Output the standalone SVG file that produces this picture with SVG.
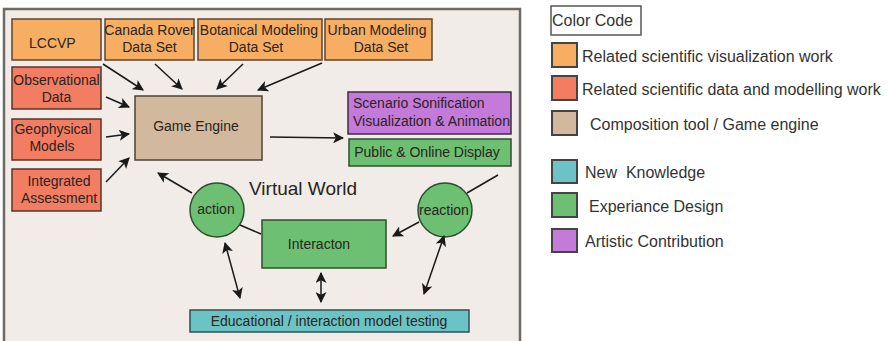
<svg xmlns="http://www.w3.org/2000/svg" width="888" height="341" viewBox="0 0 888 341">
<defs>
<marker id="ah" viewBox="0 0 10 10" refX="9" refY="5" markerWidth="11" markerHeight="11" markerUnits="userSpaceOnUse" orient="auto-start-reverse">
<path d="M0,0 L10,5 L0,10 L2.5,5 z" fill="#1a1a1a"/>
</marker>
<style>
text{font-family:"Liberation Sans",Arial,sans-serif;fill:#2a2420}
.bx{font-size:14px}
.lg{font-size:16px;fill:#333}
.or{fill:#F8AE62;stroke:#5c4630;stroke-width:1.5}
.rd{fill:#F37D62;stroke:#5c3428;stroke-width:1.5}
.tn{fill:#D2B89C;stroke:#4e4236;stroke-width:1.5}
.pu{fill:#C47AD8;stroke:#3c2c46;stroke-width:1.5}
.gr{fill:#6DBF72;stroke:#2e4e30;stroke-width:1.5}
.te{fill:#6CC3C5;stroke:#2e5050;stroke-width:1.5}
.sw{stroke:#444;stroke-width:2}
.ln{stroke:#1a1a1a;stroke-width:1.5;fill:none}
.a{marker-end:url(#ah)}
.aa{marker-end:url(#ah);marker-start:url(#ah)}
</style>
</defs>
<rect width="888" height="341" fill="#ffffff"/>
<rect id="frame" x="4" y="9" width="516" height="340" fill="#F2ECE8" stroke="#6e6a66" stroke-width="2.5"/>

<g id="lccvp"><rect class="or" x="12" y="19" width="89" height="41"/><text class="bx" x="29" y="48">LCCVP</text></g>
<g id="canada"><rect class="or" x="105" y="19" width="89" height="41"/><text class="bx" x="149.5" y="35" text-anchor="middle">Canada Rover</text><text class="bx" x="149.5" y="52" text-anchor="middle">Data Set</text></g>
<g id="botanical"><rect class="or" x="198" y="19" width="124" height="41"/><text class="bx" x="259" y="35" text-anchor="middle">Botanical Modeling</text><text class="bx" x="256" y="52" text-anchor="middle">Data Set</text></g>
<g id="urban"><rect class="or" x="325" y="19" width="107" height="41"/><text class="bx" x="377" y="35" text-anchor="middle">Urban Modeling</text><text class="bx" x="381" y="52" text-anchor="middle">Data Set</text></g>
<g id="observational"><rect class="rd" x="12" y="67" width="89" height="42"/><text class="bx" x="56.5" y="85" text-anchor="middle">Observational</text><text class="bx" x="56.5" y="102" text-anchor="middle">Data</text></g>
<g id="geophysical"><rect class="rd" x="12" y="119" width="89" height="41"/><text class="bx" x="53" y="134" text-anchor="middle">Geophysical</text><text class="bx" x="52" y="151" text-anchor="middle">Models</text></g>
<g id="integrated"><rect class="rd" x="12" y="169" width="89" height="42"/><text class="bx" x="59" y="186" text-anchor="middle">Integrated</text><text class="bx" x="59" y="203" text-anchor="middle">Assessment</text></g>
<g id="gameengine"><rect class="tn" x="135" y="96" width="127" height="64"/><text class="bx" x="196" y="131" text-anchor="middle">Game Engine</text></g>
<g id="scenario"><rect class="pu" x="348" y="92" width="163" height="42"/><text class="bx" x="353" y="108" fill="#3a2040">Scenario Sonification</text><text class="bx" x="353" y="126" fill="#3a2040">Visualization &amp; Animation</text></g>
<g id="public"><rect class="gr" x="349" y="139" width="162" height="27"/><text class="bx" x="427" y="157" text-anchor="middle" fill="#1f3a22">Public &amp; Online Display</text></g>
<g id="action"><circle class="gr" cx="217" cy="210" r="27"/><text class="bx" x="216" y="214" text-anchor="middle" fill="#1f3a22">action</text></g>
<g id="interaction"><rect class="gr" x="262" y="220" width="124" height="48"/><text class="bx" x="319" y="249" text-anchor="middle" fill="#1f3a22">Interacton</text></g>
<g id="reaction"><circle class="gr" cx="445" cy="210" r="27"/><text class="bx" x="444" y="215" text-anchor="middle" fill="#1f3a22">reaction</text></g>
<g id="educational"><rect class="te" x="190" y="310" width="279" height="22"/><text class="bx" x="329" y="326" text-anchor="middle" fill="#1f3838">Educational / interaction model testing</text></g>
<text id="virtualworld" x="249" y="195" font-size="19" fill="#222">Virtual World</text>

<g id="connectors">
<line class="ln a" x1="103" y1="64" x2="143" y2="90"/>
<line class="ln a" x1="155" y1="64" x2="182" y2="89"/>
<line class="ln a" x1="243" y1="64" x2="217" y2="89"/>
<line class="ln a" x1="322" y1="63" x2="258" y2="90"/>
<line class="ln a" x1="106" y1="97" x2="129" y2="107"/>
<line class="ln a" x1="106" y1="137" x2="129" y2="134"/>
<line class="ln a" x1="106" y1="182" x2="129" y2="158"/>
<line class="ln a" x1="270" y1="137" x2="343" y2="138"/>
<line class="ln a" x1="192" y1="193" x2="158" y2="173"/>
<line class="ln" x1="240" y1="225" x2="261" y2="234"/>
<line class="ln aa" x1="225" y1="243" x2="240" y2="298"/>
<line class="ln aa" x1="321" y1="273" x2="321" y2="302"/>
<line class="ln a" x1="419" y1="222" x2="393" y2="236"/>
<line class="ln" x1="498" y1="175" x2="467" y2="193"/>
<line class="ln aa" x1="444" y1="236" x2="424" y2="294"/>
</g>

<g id="legend">
<rect x="551" y="6" width="90" height="29" fill="#fff" stroke="#555" stroke-width="1.5"/>
<text class="lg" x="552" y="26" font-size="15.5">Color Code</text>
<rect class="sw" x="552" y="43" width="25" height="24" fill="#F8AE62"/>
<text class="lg" x="582" y="62">Related scientific visualization work</text>
<rect class="sw" x="552" y="76" width="25" height="24" fill="#F37D62"/>
<text class="lg" x="582" y="95">Related scientific data and modelling work</text>
<rect class="sw" x="552" y="111" width="25" height="24" fill="#D2B89C"/>
<text class="lg" x="590" y="130">Composition tool / Game engine</text>
<rect class="sw" x="552" y="160" width="25" height="23" fill="#6CC3C5"/>
<text class="lg" x="585" y="178" xml:space="preserve">New  Knowledge</text>
<rect class="sw" x="552" y="193" width="25" height="24" fill="#6DBF72"/>
<text class="lg" x="589" y="212">Experiance Design</text>
<rect class="sw" x="552" y="229" width="25" height="23" fill="#C47AD8"/>
<text class="lg" x="585" y="247">Artistic Contribution</text>
</g>
</svg>
